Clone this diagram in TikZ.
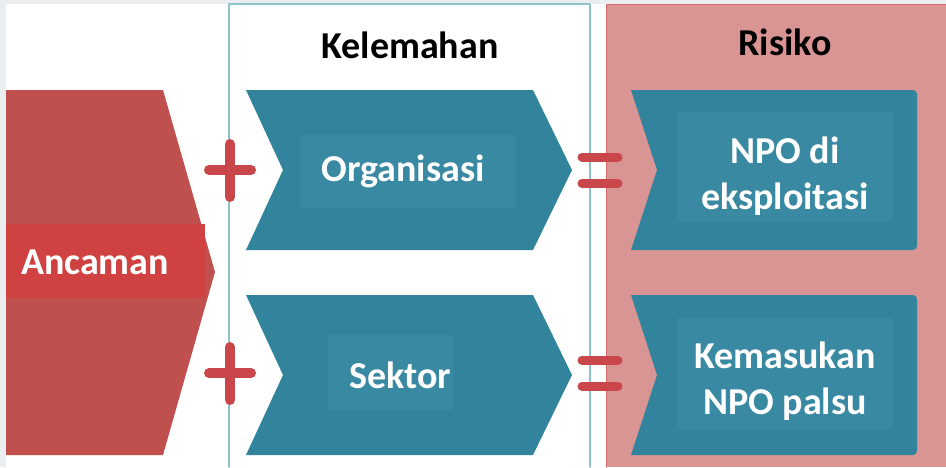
\documentclass[tikz,border=0pt]{standalone}
\usepackage{fontspec}
\setmainfont{Carlito}
\definecolor{threat}{HTML}{C0504D}
\definecolor{band}{HTML}{D04242}
\definecolor{teal}{HTML}{31849B}
\definecolor{tealin}{HTML}{3A89A3}
\definecolor{risk}{HTML}{D99594}
\definecolor{riskline}{HTML}{D46B6B}
\definecolor{frame}{HTML}{8EC3CB}
\definecolor{sign}{HTML}{C9474A}
\definecolor{outer}{HTML}{EAEEF0}
\tikzset{txt/.style={text=white,font=\bfseries\fontsize{38}{46}\selectfont,align=center},
  head/.style={text=black,font=\bfseries\fontsize{38}{46}\selectfont}}

\begin{document}
\begin{tikzpicture}[line cap=round,line join=round,x=1pt,y=-1pt]
        \useasboundingbox (0,0) rectangle (946,467);
        \fill[outer] (0,0) rectangle (946,467);
        \fill[white] (6,4) rectangle (946,467);
        % panels
        \draw[frame,line width=1.5pt] (229,467) -- (229,4) -- (590,4) -- (590,467);
        \fill[risk] (606,4) rectangle (946,467);
        \draw[riskline,line width=1pt] (606,467) -- (606,4) -- (946,4);
        \node[head] (weak) at (410,45) {Kelemahan};
        \node[head] (risk) at (785,42) {Risiko};
        % threat
        \fill[threat] (6,90) -- (163,90) -- (215,272) -- (163,455) -- (6,455) -- cycle;
        \fill[band] (6,224) rectangle (205,298);
        \node[txt] (threat) at (95,262) {Ancaman};
        % weaknesses
        \fill[teal] (246,90) -- (533,90) -- (572,170) -- (533,250) -- (246,250) -- (283,170) -- cycle;
        \fill[tealin] (300,135) rectangle (516,208);
        \node[txt] (org) at (403,171) {Organisasi};
        \fill[teal] (246,295) -- (533,295) -- (572,375) -- (533,455) -- (246,455) -- (283,375) -- cycle;
        \fill[tealin] (328,335) rectangle (453,410);
        \node[txt] (sec) at (400,375) {Sektor};
        % risks
        \fill[teal,rounded corners=4pt] (917,90) -- (917,250) [sharp corners] -- (631,250) -- (657,170) -- (631,90) [rounded corners=4pt] -- cycle;
        \fill[tealin] (677,112) rectangle (893,222);
        \node[txt] (abuse) at (785,176) {NPO di\\eksploitasi};
        \fill[teal,rounded corners=4pt] (917,295) -- (917,455) [sharp corners] -- (631,455) -- (657,375) -- (631,295) [rounded corners=4pt] -- cycle;
        \fill[tealin] (677,318) rectangle (893,430);
        \node[txt] (fake) at (785,381) {Kemasukan\\NPO palsu};
        % signs
        \foreach \y in {170,373} {
            \draw[sign,line width=10pt] (230,\y-26) -- (230,\y+27) (209,\y) -- (251,\y);
            \draw[sign,line width=9pt] (582,\y-13) -- (618,\y-13) (582,\y+13) -- (618,\y+13);
        }
    \end{tikzpicture}
\end{document}
